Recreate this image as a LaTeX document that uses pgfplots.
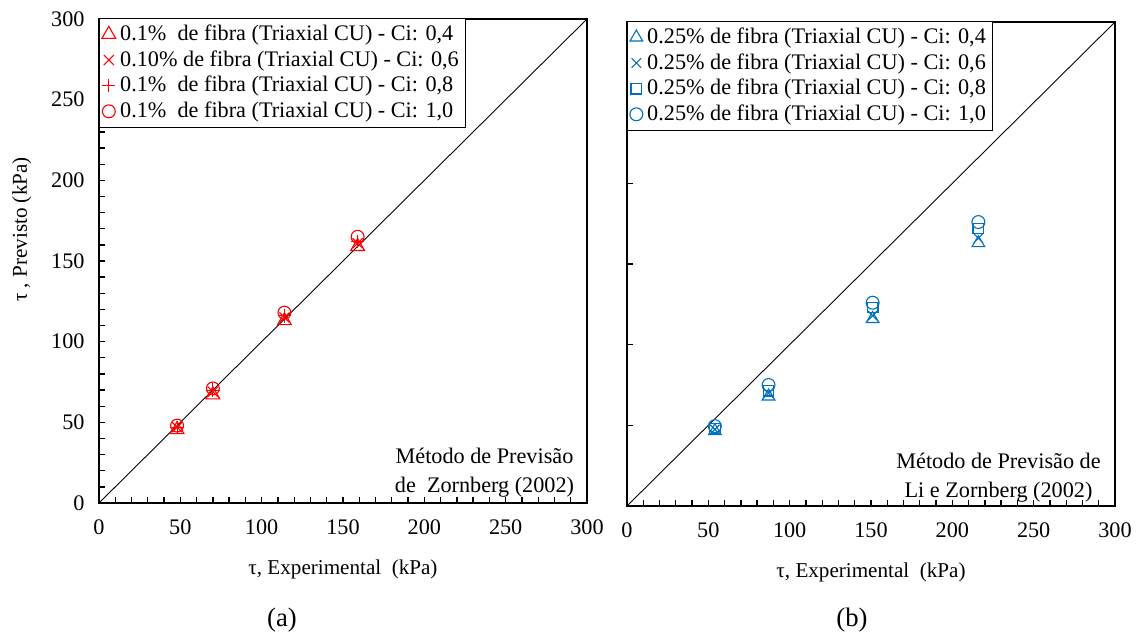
\documentclass[border=0pt]{standalone}
\usepackage{pgfplots}
\pgfplotsset{compat=1.18}
\usepackage{fontspec}
\setmainfont{Liberation Serif}
\definecolor{xlblue}{RGB}{0,112,192}

\pgfplotsset{
  base/.style={
    scale only axis, width=219.6pt, height=217.8pt,
    xmin=0, xmax=300, ymin=0, ymax=300,
    xtick={0,50,...,300}, ytick={0,50,...,300},
    minor x tick num=4,
    tick align=inside, xtick pos=bottom, ytick pos=left,
    major tick length=2.7pt, minor tick length=2.7pt,
    axis line style={line width=0.9pt},
    tick style={black, line width=0.6pt},
    /pgf/number format/assume math mode=true,
    ticklabel style={font=\fontsize{10}{12}\selectfont},
    xticklabel style={yshift=-4pt},
    yticklabel style={xshift=-3pt},
    label style={font=\fontsize{9.5}{11}\selectfont},
    xlabel style={at={(axis description cs:0.5,-0.1366)}, anchor=center},
    ylabel style={at={(axis description cs:-0.158,0.565)}, anchor=center},
    legend cell align=left,
    legend style={font=\rmfamily\fontsize{10}{12}\selectfont, draw=black, line width=0.6pt,
      at={(0,1.003)}, anchor=north west, inner sep=1pt, row sep=-1pt},
    pts/.style={only marks, line width=0.5pt},
  }
}

\begin{document}
\begin{tikzpicture}
\useasboundingbox (-44.55pt,-60.3pt) rectangle (466.65pt,226.35pt);

% (a)
\begin{axis}[base, minor y tick num=4,
  xlabel={τ, Experimental\ \ (kPa)},
  ylabel={τ , Previsto (kPa)}]
\addplot[black, thin, mark=none, sharp plot, forget plot] coordinates {(0,0)(300,300)};
\addplot[pts, red, mark=triangle, mark size=3.6pt] coordinates {(48,45.5)(70,67)(114,113)(159,159)};
\addlegendentry{0.1\%\ \ de fibra (Triaxial CU) - Ci: 0,4}
\addplot[pts, red, mark=x, mark size=3.2pt] coordinates {(48,47)(70,69)(114,115)(159,161)};
\addlegendentry{0.10\%\ de fibra (Triaxial CU) - Ci: 0,6}
\addplot[pts, red, mark=+, mark size=3pt] coordinates {(48,47)(70,70)(114,116)(159,162)};
\addlegendentry{0.1\%\ \ de fibra (Triaxial CU) - Ci: 0,8}
\addplot[pts, red, mark=o, mark size=2.9pt] coordinates {(48,48)(70,71)(114,118)(159,165)};
\addlegendentry{0.1\%\ \ de fibra (Triaxial CU) - Ci: 1,0}
\node[align=center, font=\rmfamily\fontsize{10}{13}\selectfont] at (axis cs:237,19)
  {Método de Previsão\\de\ \ Zornberg (2002)};
\end{axis}

% (b)
\begin{axis}[base, at={(237.6pt,-1.35pt)}, minor y tick num=0, yticklabels={},
  xlabel={τ, Experimental\ \ (kPa)}]
\addplot[black, thin, mark=none, sharp plot, forget plot] coordinates {(0,0)(300,300)};
\addplot[pts, xlblue, mark=triangle, mark size=3.3pt] coordinates {(54,46.5)(87,68)(151,116)(216,163)};
\addlegendentry{0.25\% de fibra (Triaxial CU) - Ci: 0,4}
\addplot[pts, xlblue, mark=x, mark size=3pt] coordinates {(54,47.5)(87,70)(151,118)(216,166)};
\addlegendentry{0.25\% de fibra (Triaxial CU) - Ci: 0,6}
\addplot[pts, xlblue, mark=square, mark size=2.4pt] coordinates {(54,48)(87,71.5)(151,123)(216,172)};
\addlegendentry{0.25\% de fibra (Triaxial CU) - Ci: 0,8}
\addplot[pts, xlblue, mark=o, mark size=2.9pt] coordinates {(54,49.5)(87,75)(151,126)(216,176)};
\addlegendentry{0.25\% de fibra (Triaxial CU) - Ci: 1,0}
\node[align=center, font=\rmfamily\fontsize{10}{13}\selectfont] at (axis cs:228.4,17.4)
  {Método de Previsão de\\Li e Zornberg (2002)};
\end{axis}

\node[font=\fontsize{12}{14}\selectfont] at (82.35pt,-52.65pt) {(a)};
\node[font=\fontsize{12}{14}\selectfont] at (338.85pt,-52.65pt) {(b)};
\end{tikzpicture}
\end{document}
